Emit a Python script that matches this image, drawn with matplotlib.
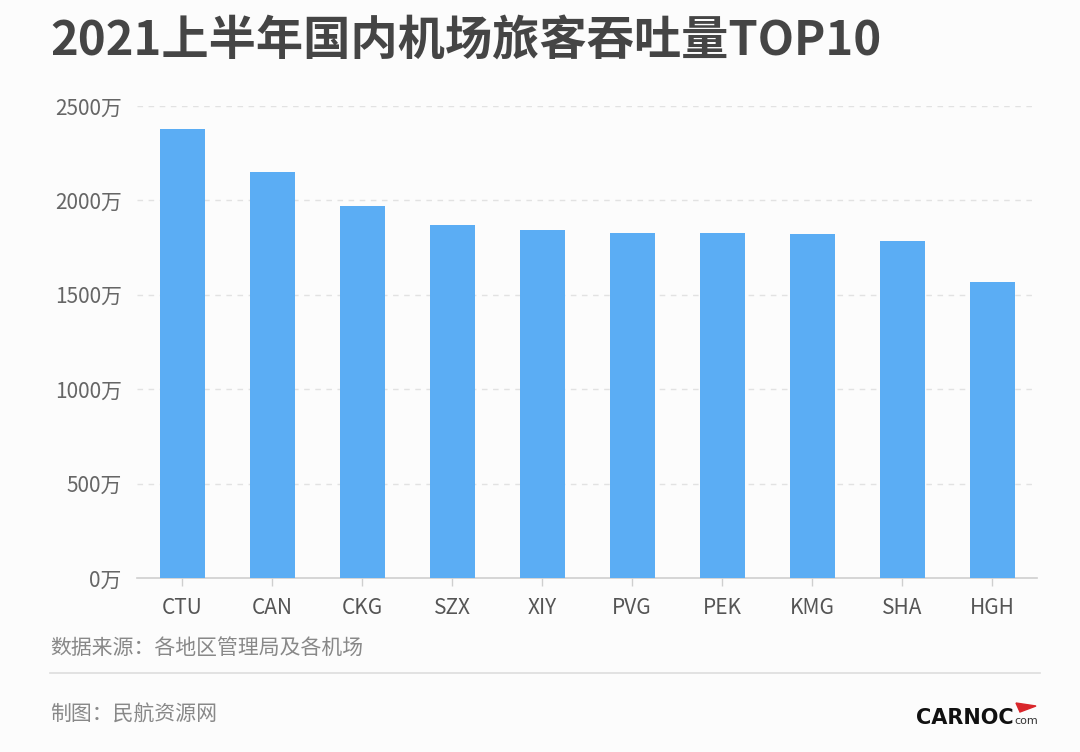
import matplotlib
matplotlib.use("Agg")
import matplotlib.pyplot as plt
from matplotlib.patches import Polygon
from matplotlib.lines import Line2D

plt.rcParams["font.family"] = ["Noto Sans CJK SC", "DejaVu Sans"]

airports = ["CTU", "CAN", "CKG", "SZX", "XIY", "PVG", "PEK", "KMG", "SHA", "HGH"]
passengers = [2378, 2152, 1970, 1871, 1843, 1826, 1826, 1822, 1783, 1569]  # 万人次
y_ticks = [0, 500, 1000, 1500, 2000, 2500]
y_labels = [f"{v}万" for v in y_ticks]

W, H = 1080, 752
BG = "#fcfcfc"
BAR = "#5badf4"

fig = plt.figure(figsize=(W / 100, H / 100), dpi=100, facecolor=BG)


def fx(px):
    return px / W


def fy(py):
    return 1 - py / H


# ── title ──
fig.text(fx(50), fy(42), "2021上半年国内机场旅客吞吐量TOP10", fontsize=34,
         fontweight="bold", color="#454545", ha="left", va="center")

# ── bars ──
ax = fig.add_axes([fx(137), fy(578), fx(900), (578 - 106) / H])
ax.set_facecolor(BG)
x = range(len(airports))
ax.bar(x, passengers, width=0.5, color=BAR, zorder=3)
ax.set_xlim(-0.5, len(airports) - 0.5)
ax.set_ylim(0, 2500)
ax.set_yticks(y_ticks)
ax.set_yticklabels(y_labels)
ax.set_xticks(list(x))
ax.set_xticklabels(airports)
for v in y_ticks[1:]:
    ax.axhline(v, color="#e2e2e2", linewidth=1, linestyle=(0, (4, 4)), zorder=1)
for s in ["top", "right", "left"]:
    ax.spines[s].set_visible(False)
ax.spines["bottom"].set_color("#cfcfcf")
ax.spines["bottom"].set_linewidth(1.2)
ax.tick_params(axis="y", length=0, pad=11, labelsize=15, labelcolor="#666666")
ax.tick_params(axis="x", length=6, width=1, color="#cfcfcf", pad=8,
               labelsize=15, labelcolor="#555555")

# ── footer ──
fig.text(fx(50), fy(648), "数据来源：各地区管理局及各机场", fontsize=15,
         color="#888888", ha="left", va="center")
fig.add_artist(Line2D([fx(50), fx(1040)], [fy(673), fy(673)],
                      color="#dddddd", linewidth=1.2, transform=fig.transFigure))
fig.text(fx(50), fy(715), "制图：民航资源网", fontsize=15,
         color="#888888", ha="left", va="center")

# CARNOC logo
fig.text(fx(1014), fy(718), "CARNOC", fontsize=15, fontweight="heavy",
         family="DejaVu Sans", color="#111111", ha="right", va="center")
fig.text(fx(1014), fy(721), "com", fontsize=8, family="DejaVu Sans",
         color="#333333", ha="left", va="center")
fig.add_artist(Polygon([[fx(1016), fy(703)], [fx(1036), fy(706)], [fx(1020), fy(712)]],
                       closed=True, color="#d9262b", transform=fig.transFigure))

fig.savefig("out.png", dpi=100, facecolor=BG)
